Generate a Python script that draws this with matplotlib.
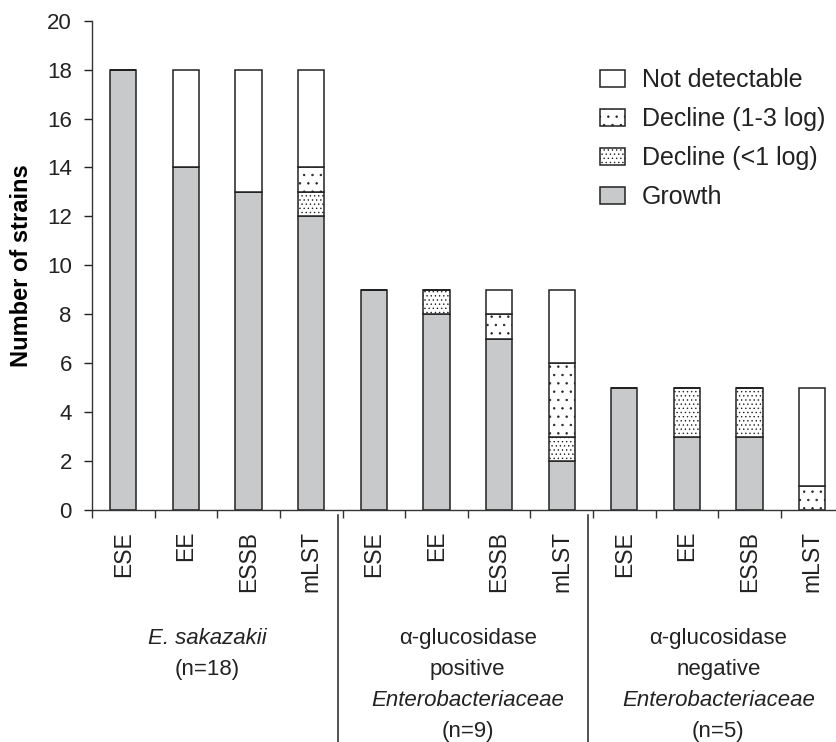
import numpy as np
import matplotlib
matplotlib.use("Agg")
import matplotlib.pyplot as plt
from matplotlib.transforms import blended_transform_factory

plt.rcParams['font.family'] = ['Liberation Sans', 'DejaVu Sans']
plt.rcParams['hatch.linewidth'] = 0.5

# data
methods = ['ESE', 'EE', 'ESSB', 'mLST'] * 3
growth = [18, 14, 13, 12, 9, 8, 7, 2, 5, 3, 3, 0]
decline_lt1 = [0, 0, 0, 1, 0, 1, 0, 1, 0, 2, 2, 0]
decline_1to3 = [0, 0, 0, 1, 0, 0, 1, 3, 0, 0, 0, 1]
not_detect = [0, 4, 5, 4, 0, 0, 1, 3, 0, 0, 0, 4]

# group captions, one entry per line: (text, italic)
groups = [
    [("E. sakazakii", True), ("(n=18)", False)],
    [("\u03b1-glucosidase", False), ("positive", False),
     ("Enterobacteriaceae", True), ("(n=9)", False)],
    [("\u03b1-glucosidase", False), ("negative", False),
     ("Enterobacteriaceae", True), ("(n=5)", False)],
]

W, H = 836, 742
fig = plt.figure(figsize=(W / 100, H / 100), dpi=100)
ax = fig.add_axes([92 / W, 1 - 510 / H, 1 - 92 / W, (510 - 20.7) / H])

x = np.arange(len(methods))
bw = 0.42
edge = '#222222'
lw = 1.1

series = [
    ("Growth", growth, '#c8c9cb', None),
    ("Decline (<1 log)", decline_lt1, 'white', '....'),
    ("Decline (1-3 log)", decline_1to3, 'white', '..'),
    ("Not detectable", not_detect, 'white', None),
]

bottom = np.zeros(len(x))
handles = []
for name, vals, col, hatch in series:
    vals = np.array(vals, dtype=float)
    b = ax.bar(x, vals, bw, bottom=bottom, color=col, edgecolor=edge,
               linewidth=lw, hatch=hatch, label=name, zorder=2)
    handles.append(b)
    bottom = bottom + vals

ax.set_xlim(-0.5, 11.38)
ax.set_ylim(0, 20)
ax.set_yticks(np.arange(0, 21, 2))
ax.tick_params(axis='y', labelsize=16, length=6, width=1, pad=8.5, colors='#222222')

ax.set_xticks(x)
ax.set_xticklabels(methods, rotation=90, fontsize=16.5, va='top')
ax.tick_params(axis='x', which='major', length=0, pad=15, colors='#222222')
ax.set_xticks(np.arange(-0.5, 11, 1), minor=True)
ax.tick_params(axis='x', which='minor', length=6, width=1, color='#333333')

for s in ['top', 'right']:
    ax.spines[s].set_visible(False)
for s in ['left', 'bottom']:
    ax.spines[s].set_color('#333333')
    ax.spines[s].set_linewidth(1.0)

ax.set_ylabel("Number of strains", fontsize=17, fontweight='bold', labelpad=10)

# separators between groups, below the axis
trans = blended_transform_factory(ax.transData, fig.transFigure)
for sx in [3.43, 7.42]:
    ax.plot([sx, sx], [1 - 515 / H, 0], transform=trans, color='#222222',
            lw=1.1, clip_on=False)

# group captions
shift = [-0.16, 0, 0]
for g, lines in enumerate(groups):
    cx = x[g * 4:(g + 1) * 4].mean() + shift[g]
    for k, (txt, it) in enumerate(lines):
        yb = 644 + 31 * k
        ax.text(cx, 1 - yb / H, txt, transform=trans, ha='center', va='baseline',
                fontsize=16, style='italic' if it else 'normal', color='#222222')

leg = ax.legend(handles[::-1], [s[0] for s in series][::-1],
                loc='upper left', bbox_to_anchor=(600 / W, 1 - 68 / H),
                bbox_transform=fig.transFigure, frameon=False, fontsize=18,
                handlelength=1.0, handleheight=0.68, handletextpad=0.68,
                labelspacing=0.6, borderpad=0, borderaxespad=0)
for t in leg.get_texts():
    t.set_color('#222222')

fig.savefig("out.png", dpi=100)
